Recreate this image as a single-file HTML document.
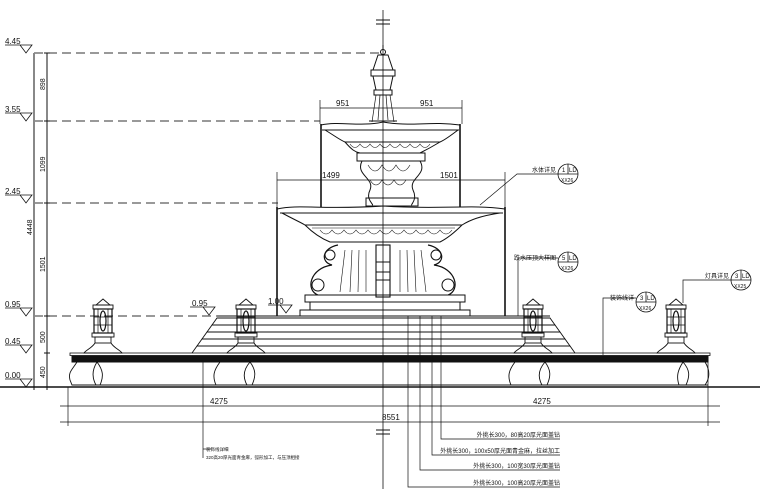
<!DOCTYPE html>
<html><head><meta charset="utf-8"><style>
html,body{margin:0;padding:0;background:#fff;}
svg{display:block;}
text{font-family:"Liberation Sans","Noto Sans CJK SC",sans-serif;fill:#111;}
</style></head><body>
<svg width="760" height="489" viewBox="0 0 760 489" xmlns="http://www.w3.org/2000/svg">
<g stroke="#111" fill="none" stroke-width="1">
<g stroke-dasharray="9,5" stroke="#333">
<line x1="34" y1="53" x2="380" y2="53"/>
<line x1="34" y1="121" x2="320" y2="121"/>
<line x1="34" y1="203" x2="278" y2="203"/>
<line x1="34" y1="316" x2="268" y2="316"/>
</g>
<line x1="34" y1="53" x2="34" y2="390" stroke="#888" stroke-width="2"/>
<line x1="47" y1="53" x2="47" y2="390"/>
<g>
<line x1="44" y1="53" x2="50" y2="53"/><line x1="44" y1="121" x2="50" y2="121"/><line x1="44" y1="203" x2="50" y2="203"/><line x1="44" y1="316" x2="50" y2="316"/><line x1="44" y1="353" x2="50" y2="353"/>
</g>
<g stroke-width="0.8">
<path d="M5 45 H32 L26 53 L20 45"/>
<path d="M5 113 H32 L26 121 L20 113"/>
<path d="M5 195 H32 L26 203 L20 195"/>
<path d="M5 308 H32 L26 316 L20 308"/>
<path d="M5 345 H32 L26 353 L20 345"/>
<path d="M5 379 H32 L26 387 L20 379"/>
<path d="M190 307 H215 L209 315 L203 307"/>
<path d="M268 305 H292 L286 313 L280 305"/>
</g>
<line x1="0" y1="387" x2="760" y2="387" stroke-width="1.4"/>
<line x1="383" y1="10" x2="383" y2="489" stroke-width="0.8"/>
<line x1="376" y1="20" x2="390" y2="20"/><line x1="376" y1="24" x2="390" y2="24"/>
<line x1="376" y1="430" x2="390" y2="430"/><line x1="376" y1="434" x2="390" y2="434"/>
<rect x="70" y="353" width="640" height="2.5" stroke-width="0.8"/>
<rect x="72" y="356" width="636" height="6" fill="#111"/>
<line x1="72" y1="362" x2="708" y2="362"/>
<g stroke-width="0.9">
<path d="M77 362 C72 370,68 372,70 380 L72 385 H96 C92 378,92 370,97 362"/>
<path d="M97 362 C103 370,104 376,100 385"/>
<path d="M220 362 C214 370,212 376,216 385 H247 C243 378,243 370,250 362"/>
<path d="M250 362 C256 370,256 376,252 385"/>
<path d="M515 362 C509 370,507 376,511 385 H542 C538 378,538 370,545 362"/>
<path d="M545 362 C551 370,551 376,547 385"/>
<path d="M683 362 C678 370,676 376,679 385 H705 C710 378,710 370,705 362"/>
<path d="M683 362 C690 370,690 376,686 385"/>
<line x1="72" y1="385" x2="708" y2="385"/>
</g>
<g stroke-width="0.9">
<path d="M192 353 L197 346 H570 L575 353"/>
<path d="M197 346 L202 339 H565 L570 346"/>
<path d="M202 339 L207 332 H560 L565 339"/>
<path d="M207 332 L212 325 H555 L560 332"/>
<path d="M212 325 L217 318 H550 L555 325"/>
<line x1="217" y1="316" x2="550" y2="316"/>
</g>
<line x1="277" y1="207" x2="277" y2="316" stroke-width="1.6"/>
<line x1="505" y1="207" x2="505" y2="316" stroke-width="1.6"/>
<path d="M277 209 C300 204,320 210,383 206 C440 210,470 204,505 209"/>
<path d="M280 213 H503"/>
<path d="M282 213 C295 220,300 222,305 225 H462 C470 220,480 216,500 213"/>
<path d="M305 225 C315 235,325 240,330 242 H440 C448 238,455 232,462 225"/>
<path d="M312 228 H455" stroke-width="0.6"/>
<g stroke-width="0.6"><path d="M320 230 q6 8 12 0 q6 8 12 0 q6 8 12 0 q6 8 12 0 q6 8 12 0 q6 8 12 0 q6 8 12 0 q6 8 12 0 q6 8 12 0 q6 8 12 0 q6 8 12 0"/></g>
<path d="M338 245 C322 248,320 262,332 265 C310 268,305 290,318 295 M428 245 C444 248,446 262,434 265 C456 268,461 290,448 295" stroke-width="1.2"/>
<circle cx="330" cy="255" r="5"/><circle cx="436" cy="255" r="5"/>
<circle cx="318" cy="285" r="6"/><circle cx="448" cy="285" r="6"/>
<g stroke-width="0.6">
<path d="M345 250 L340 292 M352 250 L350 292 M359 250 L358 292 M366 250 L366 292 M400 250 L400 292 M407 250 L408 292 M414 250 L416 292 M421 250 L426 292"/>
</g>
<rect x="376" y="245" width="14" height="52" stroke-width="1.1"/>
<line x1="376" y1="262" x2="390" y2="262"/><line x1="376" y1="272" x2="390" y2="272"/><line x1="376" y1="280" x2="390" y2="280"/>
<rect x="305" y="295" width="160" height="7"/>
<rect x="310" y="302" width="150" height="8"/>
<rect x="300" y="310" width="170" height="6"/>
<line x1="321" y1="124" x2="321" y2="207" stroke-width="1.6"/>
<line x1="460" y1="124" x2="460" y2="207" stroke-width="1.6"/>
<path d="M321 125 C340 121,360 127,383 122 C410 127,430 121,460 125"/>
<line x1="322" y1="130" x2="459" y2="130"/>
<path d="M325 130 C335 136,340 140,345 142 H440 C445 140,450 136,458 130"/>
<path d="M345 142 C352 150,355 152,360 153 H420 C426 150,430 148,440 142"/>
<g stroke-width="0.6"><path d="M350 144 q5 7 10 0 q5 7 10 0 q5 7 10 0 q5 7 10 0 q5 7 10 0 q5 7 10 0 q5 7 10 0 q5 7 10 0"/></g>
<rect x="357" y="153" width="68" height="8"/>
<path d="M362 161 C355 175,375 178,370 190 C365 200,375 205,372 205 M420 161 C428 175,408 178,413 190 C418 200,410 205,412 205"/>
<g stroke-width="0.6"><path d="M368 165 q7 12 14 0 q7 12 14 0 q7 12 14 0 M370 180 q6 10 12 0 q6 10 12 0 q6 10 12 0"/></g>
<rect x="366" y="198" width="52" height="8"/>
<path d="M383 45 L383 50"/><circle cx="383" cy="52" r="2.5"/>
<path d="M378 55 L373 70 H393 L388 55 Z"/>
<rect x="371" y="70" width="24" height="6"/>
<path d="M373 76 L376 90 H390 L393 76"/>
<rect x="374" y="90" width="18" height="5"/>
<path d="M376 95 L372 122 M380 95 L378 120 M386 95 L388 120 M390 95 L394 122" stroke-width="0.7"/>
<line x1="369" y1="121" x2="397" y2="121"/>
<line x1="320" y1="108" x2="462" y2="108" stroke-width="0.7"/>
<line x1="320" y1="100" x2="320" y2="124" stroke-width="0.7"/><line x1="462" y1="100" x2="462" y2="124" stroke-width="0.7"/>
<line x1="277" y1="180" x2="505" y2="180" stroke-width="0.7"/>
<line x1="277" y1="172" x2="277" y2="207" stroke-width="0.7"/><line x1="505" y1="172" x2="505" y2="207" stroke-width="0.7"/>
<line x1="60" y1="406" x2="720" y2="406" stroke-width="0.8"/>
<line x1="60" y1="422" x2="720" y2="422" stroke-width="0.8"/>
<line x1="68" y1="387" x2="68" y2="426" stroke-width="0.7"/>
<line x1="708" y1="362" x2="708" y2="426" stroke-width="0.7"/>
<g id="lan" stroke-width="0.9">
<path d="M103 299 L96 305 H110 Z"/>
<rect x="93" y="305" width="20" height="4"/>
<rect x="94" y="309" width="18" height="24" stroke-width="1.2"/>
<path d="M98 309 V333 M108 309 V333 M94 317 H112 M94 325 H112" stroke-width="0.7"/>
<ellipse cx="103" cy="321" rx="3" ry="10" stroke-width="1.2"/>
<rect x="92" y="333" width="22" height="4"/>
<rect x="95" y="337" width="16" height="6"/>
<path d="M95 343 C92 348,86 350,84 353 H122 C120 350,114 348,111 343"/>
</g>
<use href="#lan" x="143"/>
<use href="#lan" x="430"/>
<use href="#lan" x="573"/>
<g stroke-width="0.7">
<path d="M480 205 L517 174 H558"/>
<path d="M518 316 V258 H558"/>
<path d="M603 355 V298 H636"/>
<path d="M683 303 V280 H731"/>
<path d="M441 316 V439 H560"/>
<path d="M432 316 V455 H560"/>
<path d="M420 316 V470 H560"/>
<path d="M408 316 V487 H560"/>
<path d="M203 362 V458"/><path d="M203 449 H212"/>
</g>
<g stroke-width="0.8">
<circle cx="568" cy="174" r="10"/><line x1="558" y1="174" x2="578" y2="174"/><line x1="568" y1="164" x2="568" y2="174"/>
<circle cx="568" cy="262" r="10"/><line x1="558" y1="262" x2="578" y2="262"/><line x1="568" y1="252" x2="568" y2="262"/>
<circle cx="646" cy="302" r="10"/><line x1="636" y1="302" x2="656" y2="302"/><line x1="646" y1="292" x2="646" y2="302"/>
<circle cx="741" cy="280" r="10"/><line x1="731" y1="280" x2="751" y2="280"/><line x1="741" y1="270" x2="741" y2="280"/>
</g>
</g>
<g font-size="8">
<text x="5" y="44">4.45</text><text x="5" y="112">3.55</text><text x="5" y="194">2.45</text>
<text x="5" y="307">0.95</text><text x="5" y="344">0.45</text><text x="5" y="378">0.00</text>
<text x="192" y="306">0.95</text><text x="268" y="304">1.00</text>
<text x="336" y="106">951</text><text x="420" y="106">951</text>
<text x="322" y="178">1499</text><text x="440" y="178">1501</text>
<text x="210" y="404">4275</text><text x="533" y="404">4275</text>
<text x="382" y="420">8551</text>
</g>
<g font-size="7">
<text transform="translate(45,90) rotate(-90)">898</text>
<text transform="translate(45,172) rotate(-90)">1099</text>
<text transform="translate(32,235) rotate(-90)">4448</text>
<text transform="translate(45,272) rotate(-90)">1501</text>
<text transform="translate(45,343) rotate(-90)">500</text>
<text transform="translate(45,378) rotate(-90)">450</text>
</g>
<g font-size="6">
<text x="562" y="172">1</text><text x="569" y="172">LD</text><text x="561" y="182" font-size="5">XX26</text>
<text x="562" y="260">5</text><text x="569" y="260">LD</text><text x="561" y="270" font-size="5">XX26</text>
<text x="640" y="300">3</text><text x="647" y="300">LD</text><text x="639" y="310" font-size="5">XX26</text>
<text x="735" y="278">3</text><text x="742" y="278">LD</text><text x="734" y="288" font-size="5">XX25</text>
<text x="556" y="172" text-anchor="end">水体详见</text>
<text x="556" y="260" text-anchor="end">跌水压顶大样图</text>
<text x="634" y="300" text-anchor="end">装饰线详</text>
<text x="729" y="278" text-anchor="end">灯具详见</text>
<text x="560" y="437" text-anchor="end">外挑长300，80高20厚光面盖钻</text>
<text x="560" y="453" text-anchor="end">外挑长300，100x50厚光面青金麻，拉丝加工</text>
<text x="560" y="468" text-anchor="end">外挑长300，100宽30厚光面盖钻</text>
<text x="560" y="485" text-anchor="end">外挑长300，100高20厚光面盖钻</text>
</g>
<g font-size="4.5"><text x="206" y="451">装饰线详细</text><text x="206" y="459">320高20厚光面青金麻，弧形加工，与压顶相接</text></g>
</svg>
</body></html>
